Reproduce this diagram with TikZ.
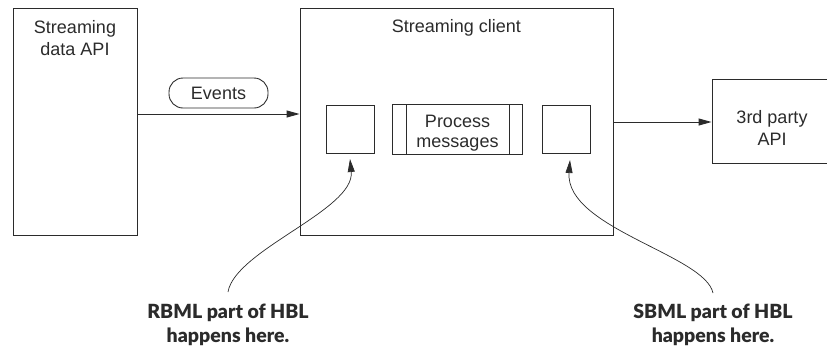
\documentclass[tikz,border=0pt]{standalone}
\usepackage{fontspec}
\setmainfont{Liberation Sans}
\newfontfamily\lblfont{Lato Black}
\usetikzlibrary{arrows.meta}
\definecolor{ink}{HTML}{2B2B2B}
\tikzset{
  box/.style={draw=ink, line width=0.9pt, rectangle, inner sep=0pt},
  txt/.style={font=\fontsize{18}{21}\selectfont, text=ink, align=center, inner sep=0pt},
  lbl/.style={font=\lblfont\fontsize{19.5}{24}\selectfont, text=ink, align=center, inner sep=0pt},
  arr/.style={draw=ink, line width=0.9pt, -{Triangle[length=13pt,width=7pt]}},
  carr/.style={draw=ink, line width=0.7pt, -{Triangle[length=13pt,width=7pt]}},
}
\begin{document}
\begin{tikzpicture}[x=1pt,y=-1pt]
\useasboundingbox (0,0) rectangle (827,349);
\clip (0,0) rectangle (827,349);
% left box
\node[box, minimum width=124pt, minimum height=227pt] (api) at (75,121.5) {};
\node[txt, anchor=base] (apit1) at (75,33) {Streaming};
\node[txt, anchor=base] (apit2) at (75,55) {data API};
% main client box
\node[box, minimum width=313pt, minimum height=227pt] (client) at (456.5,121.5) {};
\node[txt, anchor=base] (clientt) at (456.5,32) {Streaming client};
% inner boxes
\node[box, minimum width=48pt, minimum height=48pt] (lbox) at (350,129) {};
\node[box, minimum width=48pt, minimum height=48pt] (rbox) at (566,129) {};
\node[box, minimum width=130pt, minimum height=50pt] (proc) at (457,129) {};
\draw[ink, line width=0.9pt] (406,104) -- (406,154) (509,104) -- (509,154);
\node[txt, anchor=base] (proct1) at (457.5,127) {Process};
\node[txt, anchor=base] (proct2) at (457.5,147) {messages};
% third party box (clipped on the right)
\node[box, minimum width=120pt, minimum height=84pt] (third) at (772,121) {};
\node[txt, anchor=base] (thirdt1) at (772,123) {3rd party};
\node[txt, anchor=base] (thirdt2) at (772,145) {API};
% events pill
\node[box, minimum width=99pt, minimum height=30pt, rounded corners=14pt] (events) at (218.5,93) {};
\node[txt] (eventst) at (218.5,93) {Events};
% connectors
\coordinate (ya) at (0,114);
\coordinate (yb) at (0,122);
\draw[arr] (api.east |- ya) -- (client.west |- ya);
\draw[arr] (client.east |- yb) -- (third.west |- yb);
% labels
\node[lbl, anchor=base] (rbml1) at (228,318) {RBML part of HBL};
\node[lbl, anchor=base] (rbml2) at (228,342) {happens here.};
\node[lbl, anchor=base] (sbml1) at (713,318) {SBML part of HBL};
\node[lbl, anchor=base] (sbml2) at (713,342) {happens here.};
\coordinate (rs) at (228,292);
\coordinate (ss) at (713,293);
\coordinate (ltip) at (350,159);
\coordinate (rtip) at (570,160);
\draw[carr] (rs) .. controls (235,250) and (355,210) .. (ltip);
\draw[carr] (ss) .. controls (705,255) and (565,228) .. (rtip);
\end{tikzpicture}
\end{document}
